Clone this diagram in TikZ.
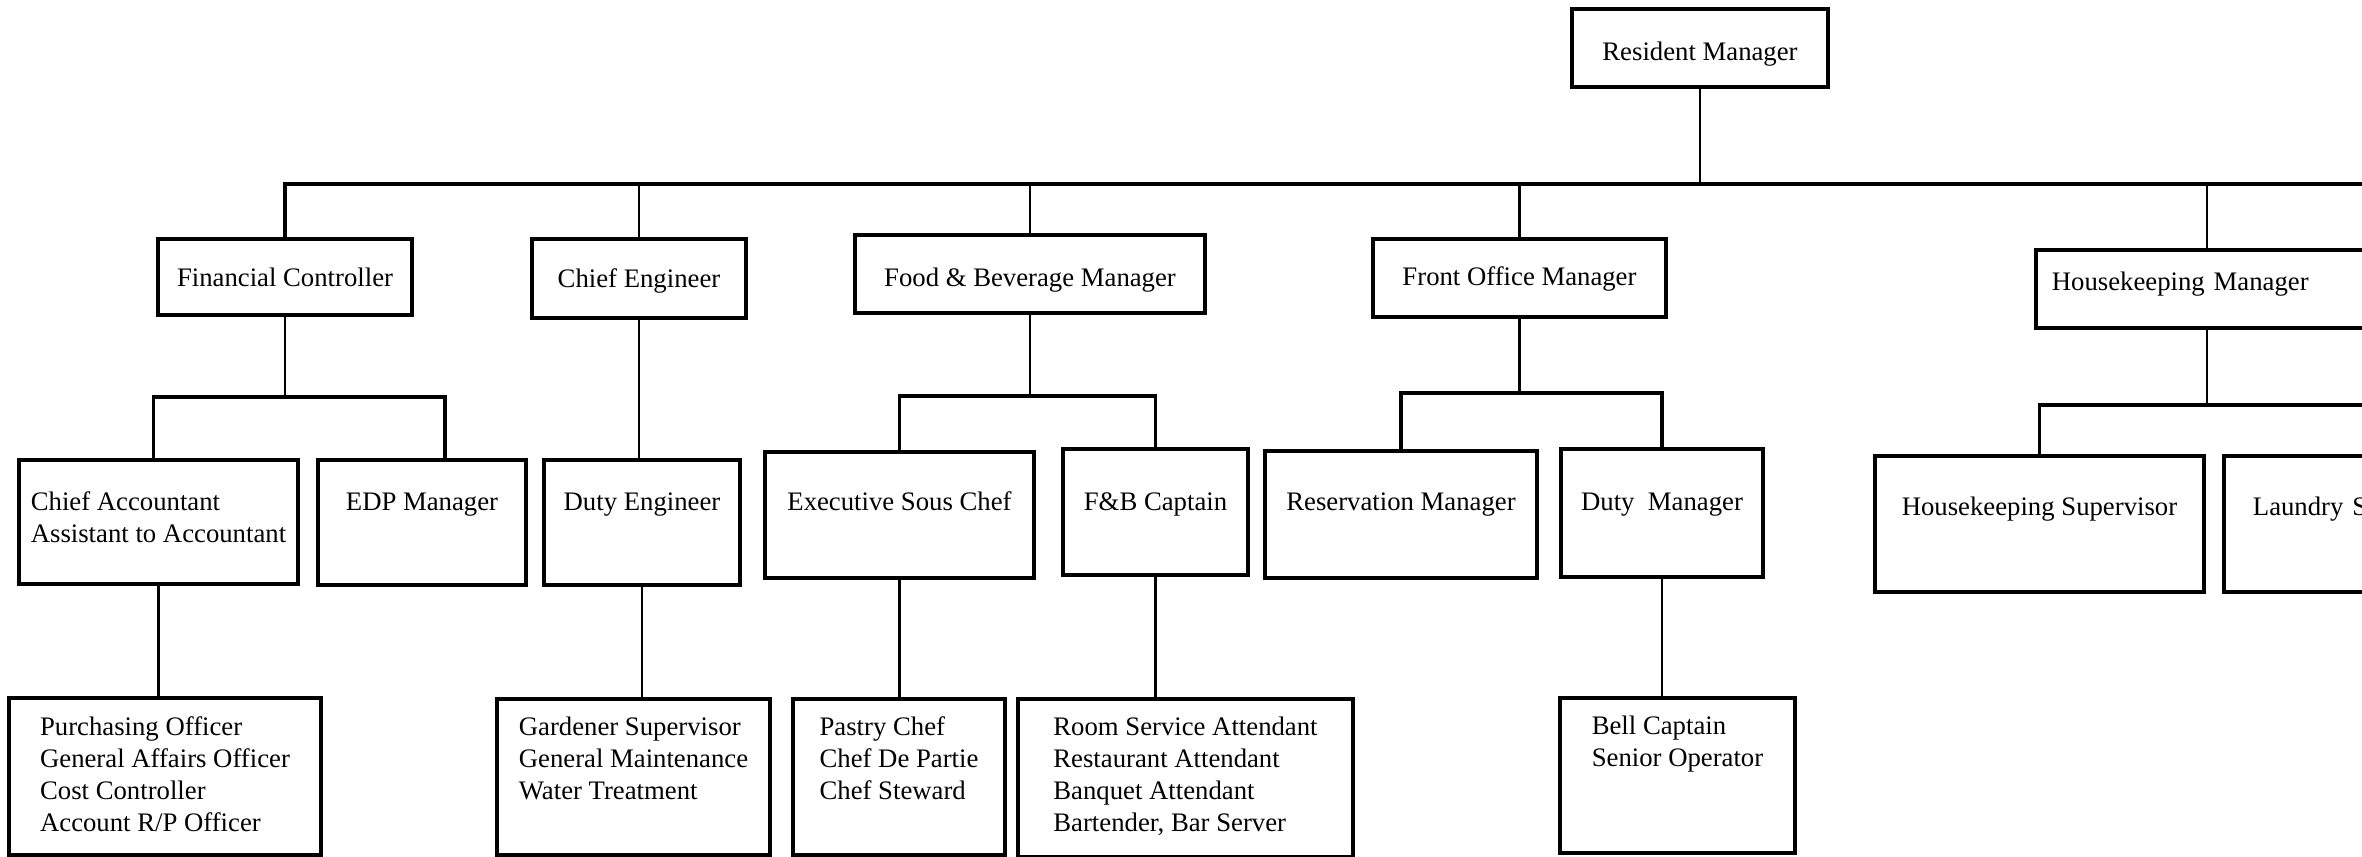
\documentclass[tikz,border=0pt]{standalone}
\usepackage{fontspec}
\setmainfont{Liberation Serif}

\begin{document}
\begin{tikzpicture}[
        x=0.01cm, y=-0.01cm,
        box/.style n args={3}{draw, line width=1.1pt, inner sep=0pt, anchor=base,
            minimum width=#1, text height=#2, text depth=#3, font=\fontsize{7.6}{9.1}\selectfont},
        link/.style={line width=0.75pt},
        mainbus/.style={line width=1pt}
    ]
        \useasboundingbox (0,0) rectangle (2362,857);
        \clip (0,0) rectangle (2362,857);

        \node[box={2.56cm}{0.51cm}{0.27cm}] (rm) at (1700,60) {Resident Manager};

        \node[box={2.54cm}{0.47cm}{0.29cm}] (fc) at (285,286) {Financial Controller};
        \node[box={2.14cm}{0.48cm}{0.31cm}] (ce) at (639,287) {Chief Engineer};
        \node[box={3.50cm}{0.51cm}{0.27cm}] (fb) at (1030,286) {Food \& Beverage Manager};
        \node[box={2.93cm}{0.46cm}{0.32cm}] (fo) at (1519.5,285) {Front Office Manager};
        \node[box={3.42cm}{0.40cm}{0.38cm}, text width=3.10cm, align=left, inner xsep=0.16cm] (hm) at (2207,290) {Housekeeping Manager};

        \node[box={2.79cm}{0.50cm}{0.74cm}] (ca) at (158.5,510)
            {\begin{tabular}[t]{@{}l@{}}Chief Accountant\\Assistant to Accountant\end{tabular}};
        \node[box={2.08cm}{0.50cm}{0.75cm}] (edp) at (422,510) {EDP Manager};
        \node[box={1.96cm}{0.50cm}{0.75cm}] (de) at (642,510) {Duty Engineer};
        \node[box={2.69cm}{0.58cm}{0.68cm}] (esc) at (899.5,510) {Executive Sous Chef};
        \node[box={1.85cm}{0.61cm}{0.65cm}] (fbc) at (1155.5,510) {F\&B Captain};
        \node[box={2.72cm}{0.59cm}{0.68cm}] (res) at (1401,510) {Reservation Manager};
        \node[box={2.02cm}{0.61cm}{0.67cm}] (dm) at (1662,510) {Duty\ \ Manager};
        \node[box={3.29cm}{0.59cm}{0.77cm}] (hs) at (2039.5,515) {Housekeeping Supervisor};
        \node[box={3.29cm}{0.59cm}{0.77cm}, text width=2.71cm, align=left, inner xsep=0.29cm] (ls) at (2388.5,515) {Laundry Supervisor};

        \node[box={3.12cm}{0.37cm}{1.20cm}] (pur) at (165,735)
            {\begin{tabular}[t]{@{}l@{}}Purchasing Officer\\General Affairs Officer\\Cost Controller\\Account R/P Officer\end{tabular}};
        \node[box={2.73cm}{0.36cm}{1.20cm}] (gs) at (633.5,735)
            {\begin{tabular}[t]{@{}l@{}}Gardener Supervisor\\General Maintenance\\Water Treatment\end{tabular}};
        \node[box={2.12cm}{0.36cm}{1.20cm}] (pc) at (899,735)
            {\begin{tabular}[t]{@{}l@{}}Pastry Chef\\Chef De Partie\\Chef Steward\end{tabular}};
        \node[box={3.35cm}{0.36cm}{1.22cm}] (rsa) at (1185.5,735)
            {\begin{tabular}[t]{@{}l@{}}Room Service Attendant\\Restaurant Attendant\\Banquet Attendant\\Bartender, Bar Server\end{tabular}};
        \node[box={2.35cm}{0.36cm}{1.19cm}] (bc) at (1677.5,734)
            {\begin{tabular}[t]{@{}l@{}}Bell Captain\\Senior Operator\end{tabular}};

        \coordinate (busend) at (2400,184);
        \coordinate (fcbus) at (0,397);
        \coordinate (fbbus) at (0,396);
        \coordinate (fobus) at (0,393);
        \coordinate (hmbus) at (0,405);
        \coordinate (cadrop) at ([xshift=-0.05cm]ca.north);
        \coordinate (edpdrop) at ([xshift=0.23cm]edp.north);

        \draw[link] (rm.south) -- (rm.south |- busend);
        \draw[mainbus] (fc.north) |- (busend);
        \draw[link] (ce.north) -- (ce.north |- busend);
        \draw[link] (fb.north) -- (fb.north |- busend);
        \draw[link] (fo.north) -- (fo.north |- busend);
        \draw[link] (hm.north) -- (hm.north |- busend);

        \draw[link] (fc.south) -- (fc.south |- fcbus);
        \draw[mainbus] (cadrop) |- (fcbus -| edpdrop) -- (edpdrop);
        \draw[link] (ce.south) -- (ce.south |- de.north);
        \draw[link] (fb.south) -- (fb.south |- fbbus);
        \draw[mainbus] (esc.north) |- (fbbus -| fbc.north) -- (fbc.north);
        \draw[link] (fo.south) -- (fo.south |- fobus);
        \draw[mainbus] (res.north) |- (fobus -| dm.north) -- (dm.north);
        \draw[link] (hm.south) -- (hm.south |- hmbus);
        \draw[mainbus] (hs.north) |- (hmbus -| ls.north) -- (ls.north);

        \draw[link] (ca.south) -- (ca.south |- pur.north);
        \draw[link] (de.south) -- (de.south |- gs.north);
        \draw[link] (esc.south) -- (esc.south |- pc.north);
        \draw[link] (fbc.south) -- (fbc.south |- rsa.north);
        \draw[link] (dm.south) -- (dm.south |- bc.north);
    \end{tikzpicture}
\end{document}
